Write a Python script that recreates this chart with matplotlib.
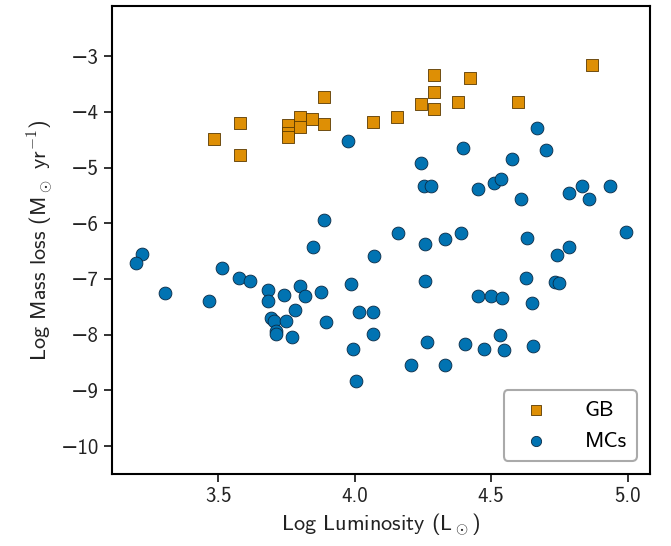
import matplotlib
matplotlib.use("Agg")
import matplotlib.pyplot as plt

# GB stars (squares)
gb_lum = [3.485, 3.578, 3.578, 3.755, 3.755, 3.755, 3.80, 3.80, 3.844, 3.888, 3.888,
          4.067, 4.156, 4.244, 4.289, 4.289, 4.289, 4.378, 4.423, 4.60, 4.869]
gb_mdot = [-4.49, -4.20, -4.77, -4.23, -4.38, -4.45, -4.10, -4.28, -4.12, -3.74, -4.21,
           -4.18, -4.09, -3.86, -3.33, -3.64, -3.94, -3.83, -3.39, -3.83, -3.16]

# Magellanic Clouds (circles)
mc_lum = [3.975, 4.667, 4.398, 4.702, 4.241, 4.578,
          4.252, 4.280, 4.450, 4.512, 4.535, 4.610, 4.785, 4.833, 4.857, 4.934,
          3.888, 4.159, 4.257, 4.329, 4.388, 4.633, 4.993, 3.845, 4.072, 3.220,
          3.197, 3.513, 4.787, 4.740,
          3.574, 3.616, 3.304, 3.467, 3.681, 3.681, 3.739, 3.799, 3.818, 3.877,
          3.781, 3.692, 3.702, 3.747, 3.896, 3.711, 3.710, 3.770,
          3.987, 4.016, 4.066, 4.068, 3.995, 4.004, 4.256, 4.264, 4.205, 4.329,
          4.403, 4.472, 4.451, 4.499, 4.539, 4.533, 4.547, 4.626, 4.650, 4.655,
          4.734, 4.749]
mc_mdot = [-4.53, -4.29, -4.65, -4.69, -4.91, -4.85,
           -5.33, -5.34, -5.38, -5.27, -5.20, -5.56, -5.46, -5.33, -5.57, -5.33,
           -5.94, -6.18, -6.38, -6.29, -6.17, -6.27, -6.15, -6.43, -6.58, -6.55,
           -6.71, -6.81, -6.42, -6.57,
           -6.99, -7.04, -7.26, -7.39, -7.20, -7.40, -7.29, -7.13, -7.30, -7.24,
           -7.56, -7.70, -7.76, -7.75, -7.77, -7.93, -7.99, -8.04,
           -7.09, -7.60, -7.60, -7.99, -8.26, -8.83, -7.04, -8.13, -8.55, -8.55,
           -8.17, -8.26, -7.30, -7.30, -7.35, -8.01, -8.27, -6.99, -7.43, -8.20,
           -7.05, -7.08]

x_ticks = [3.5, 4.0, 4.5, 5.0]
y_ticks = [-3, -4, -5, -6, -7, -8, -9, -10]

plt.rcParams["font.family"] = ["cmss10", "DejaVu Sans"]
plt.rcParams["mathtext.fontset"] = "cm"
plt.rcParams["axes.formatter.use_mathtext"] = False

fig = plt.figure(figsize=(6.71, 5.46), dpi=100)
ax = fig.add_axes([0.167, 0.132, 0.802, 0.857])

ax.scatter(gb_lum, gb_mdot, marker="s", s=75, color="#DE8F05",
           edgecolor="#5a3a00", linewidth=0.6, label="GB", zorder=3)
ax.scatter(mc_lum, mc_mdot, marker="o", s=85, color="#0173B2",
           edgecolor="#0a2a45", linewidth=0.6, label="MCs", zorder=3)

ax.set_xlim(3.11, 5.083)
ax.set_ylim(-10.5, -2.1)
ax.set_xticks(x_ticks)
ax.set_xticklabels([f"{v:.1f}" for v in x_ticks])
ax.set_yticks(y_ticks)
ax.set_yticklabels([f"\u2212{abs(v)}" for v in y_ticks])
ax.tick_params(labelsize=15, length=6, width=1.3, colors="#222222")

for s in ax.spines.values():
    s.set_linewidth(1.5)

ax.set_xlabel(r"Log Luminosity (L$_\odot$)", fontsize=16, color="#222222")
ax.set_ylabel(r"Log Mass loss (M$_\odot$ yr$^{-1}$)", fontsize=16, color="#222222")

leg = ax.legend(loc="lower right", fontsize=16, handletextpad=1.2,
                markerscale=0.8, borderpad=0.45, frameon=True, fancybox=True,
                edgecolor="#aaaaaa", framealpha=1.0, borderaxespad=0.6)
leg.get_frame().set_linewidth(1.5)

fig.savefig("out.png", dpi=100)
